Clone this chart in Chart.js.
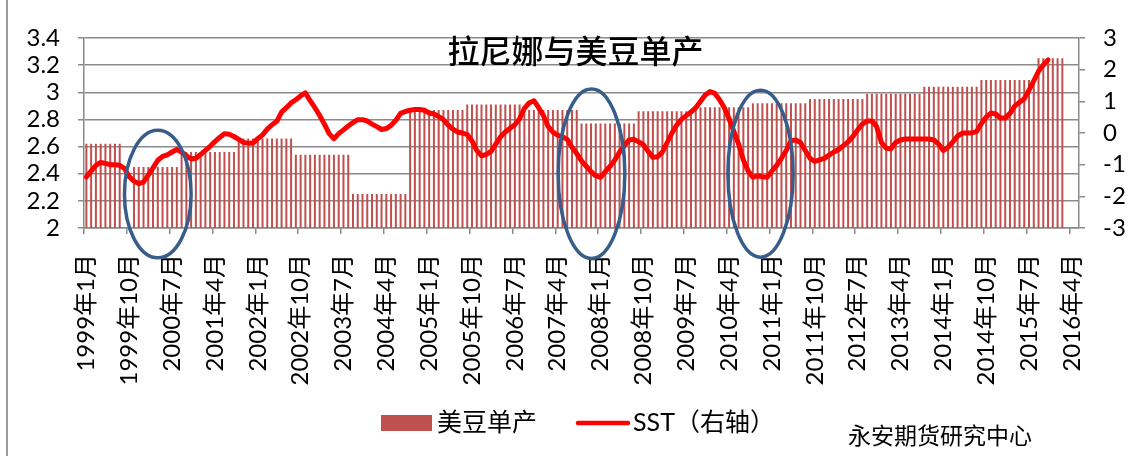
<!DOCTYPE html>
<html lang="zh-CN">
<head>
<meta charset="UTF-8">
<script src="https://cdn.jsdelivr.net/npm/chart.js"></script>
<style>
  html, body { margin: 0; padding: 0; background: #fff; }
  #wrap { width: 1137px; height: 456px; position: relative; }
</style>
</head>
<body>
<div id="wrap"><canvas id="laninaChart" width="1137" height="456"></canvas></div>
<script>
// 月度分类：1999年1月 起，共 209 个月
const months = [];
for (let i = 0; i < 209; i++) {
  months.push((1999 + Math.floor(i / 12)) + '年' + (i % 12 + 1) + '月');
}
const labelStep = 9;   // 横轴每 9 个月标一次

// 美豆单产（吨/公顷），按作物年度区间
const yieldFrom  = ['1999年1月', '1999年11月', '2000年9月', '2001年9月', '2002年9月', '2003年9月',
                    '2004年9月', '2005年9月', '2006年9月', '2007年9月', '2008年9月', '2009年9月',
                    '2010年9月', '2011年9月', '2012年9月', '2013年9月', '2014年9月', '2015年9月'];
const yieldTo    = ['1999年8月', '2000年8月', '2001年8月', '2002年8月', '2003年8月', '2004年8月',
                    '2005年8月', '2006年8月', '2007年8月', '2008年8月', '2009年8月', '2010年8月',
                    '2011年8月', '2012年8月', '2013年8月', '2014年8月', '2015年8月', '2016年2月'];
const yieldValue = [2.62, 2.45, 2.56, 2.66, 2.54, 2.25,
                    2.87, 2.91, 2.87, 2.77, 2.86, 2.89,
                    2.92, 2.95, 2.99, 3.04, 3.09, 3.25];

// SST 月度距平（右轴），1999年1月 - 2015年11月
const sst = [
  -1.39, -1.20, -1.02, -0.93, -0.96, -1.00, -1.00, -1.02, -1.12, -1.38, -1.52, -1.60,
  -1.55, -1.33, -1.10, -0.86, -0.74, -0.69, -0.60, -0.52, -0.60, -0.72, -0.82, -0.80,
  -0.68, -0.55, -0.42, -0.27, -0.14, -0.02, -0.04, -0.11, -0.20, -0.30, -0.32, -0.32,
  -0.18, -0.06, 0.12, 0.26, 0.37, 0.66, 0.80, 0.95, 1.05, 1.17, 1.27, 1.02,
  0.80, 0.55, 0.28, -0.02, -0.18, -0.02, 0.10, 0.22, 0.33, 0.42, 0.42, 0.38,
  0.28, 0.20, 0.11, 0.14, 0.24, 0.40, 0.62, 0.68, 0.72, 0.74, 0.74, 0.72,
  0.63, 0.60, 0.52, 0.42, 0.25, 0.12, 0.03, 0.00, -0.05, -0.25, -0.55, -0.72,
  -0.68, -0.58, -0.35, -0.12, 0.03, 0.15, 0.26, 0.45, 0.78, 0.95, 1.02, 0.80,
  0.55, 0.20, 0.03, -0.07, -0.12, -0.20, -0.45, -0.65, -0.88, -1.05, -1.22, -1.35,
  -1.40, -1.22, -1.05, -0.85, -0.60, -0.40, -0.22, -0.20, -0.28, -0.37, -0.58, -0.77,
  -0.75, -0.60, -0.30, 0.00, 0.25, 0.43, 0.55, 0.66, 0.80, 1.00, 1.20, 1.31,
  1.25, 1.05, 0.80, 0.45, 0.05, -0.35, -0.85, -1.20, -1.40, -1.35, -1.38, -1.40,
  -1.20, -1.02, -0.80, -0.55, -0.25, -0.22, -0.30, -0.55, -0.80, -0.90, -0.85, -0.80,
  -0.70, -0.60, -0.52, -0.40, -0.28, -0.11, 0.10, 0.28, 0.38, 0.38, 0.20, -0.30,
  -0.48, -0.50, -0.30, -0.22, -0.19, -0.19, -0.19, -0.19, -0.19, -0.19, -0.22, -0.35,
  -0.55, -0.45, -0.28, -0.10, 0.00, 0.00, 0.00, 0.05, 0.30, 0.50, 0.63, 0.60,
  0.47, 0.47, 0.62, 0.85, 0.97, 1.08, 1.35, 1.65, 1.95, 2.15, 2.31
];

// 标注的三个拉尼娜时段（中心月份、左轴值、半宽月数、半高）
const markCenter = [15.0, 106.1, 141.6];
const markValue  = [2.25, 2.40, 2.40];
const markHalfX  = [7.0, 7.0, 6.85];
const markHalfY  = [0.47, 0.625, 0.615];

// 按区间展开成月度柱数据
const yieldMonthly = months.map(() => null);
yieldValue.forEach((v, k) => {
  const a = months.indexOf(yieldFrom[k]);
  const b = months.indexOf(yieldTo[k]);
  for (let i = a; i <= b; i++) yieldMonthly[i] = v;
});
const sstMonthly = months.map((m, i) => (i < sst.length ? sst[i] : null));

const FONT = 'Lato, "Noto Sans CJK SC", sans-serif';
const GRID = '#8a8a8a';
const BAR = '#C0504D';
const LINE = '#FF0000';

// 标题、图例、署名和椭圆标注
const decorPlugin = {
  id: 'decor',
  afterDraw(chart) {
    const ctx = chart.ctx;
    const xs = chart.scales.x;
    const ys = chart.scales.y;
    const area = chart.chartArea;
    ctx.save();

    // 外框左边线
    ctx.strokeStyle = '#9a9a9a';
    ctx.lineWidth = 2;
    ctx.beginPath();
    ctx.moveTo(7, 0);
    ctx.lineTo(7, chart.height);
    ctx.stroke();

    // 标题
    ctx.fillStyle = '#000';
    ctx.font = '500 32px "Noto Sans CJK SC", sans-serif';
    ctx.textAlign = 'center';
    ctx.textBaseline = 'middle';
    ctx.fillText('拉尼娜与美豆单产', (area.left + area.right) / 2 - 6, 51);

    // 椭圆
    ctx.strokeStyle = '#385D8A';
    ctx.lineWidth = 3.5;
    markCenter.forEach((c, k) => {
      const cx = xs.getPixelForValue(c);
      const rx = xs.getPixelForValue(c + markHalfX[k]) - cx;
      const cy = ys.getPixelForValue(markValue[k]);
      const ry = cy - ys.getPixelForValue(markValue[k] + markHalfY[k]);
      ctx.beginPath();
      ctx.ellipse(cx, cy, rx, ry, 0, 0, Math.PI * 2);
      ctx.stroke();
    });

    // 图例
    const ly = 423;
    ctx.fillStyle = BAR;
    ctx.fillRect(381, ly - 8, 51, 16);
    ctx.fillStyle = '#000';
    ctx.textAlign = 'left';
    ctx.font = '25px ' + FONT;
    ctx.fillText('美豆单产', 437, ly);
    ctx.strokeStyle = LINE;
    ctx.lineWidth = 4.5;
    ctx.lineCap = 'round';
    ctx.beginPath();
    ctx.moveTo(578, ly);
    ctx.lineTo(628, ly);
    ctx.stroke();
    ctx.fillText('SST（右轴）', 633, ly);

    // 署名
    ctx.font = '23px ' + FONT;
    ctx.fillText('永安期货研究中心', 848, 437);
    ctx.restore();
  }
};

new Chart(document.getElementById('laninaChart'), {
  data: {
    labels: months,
    datasets: [
      {
        type: 'line',
        label: 'SST（右轴）',
        data: sstMonthly,
        yAxisID: 'y1',
        borderColor: LINE,
        borderWidth: 5,
        borderJoinStyle: 'round',
        borderCapStyle: 'round',
        pointRadius: 0,
        tension: 0,
        order: 1
      },
      {
        type: 'bar',
        label: '美豆单产',
        data: yieldMonthly,
        yAxisID: 'y',
        backgroundColor: BAR,
        barPercentage: 0.42,
        categoryPercentage: 1.0,
        order: 2
      }
    ]
  },
  options: {
    responsive: false,
    animation: false,
    layout: { padding: { top: 38, left: 0, right: 0, bottom: 0 } },
    plugins: {
      legend: { display: false },
      tooltip: { enabled: false },
      title: { display: false }
    },
    scales: {
      x: {
        type: 'category',
        offset: true,
        grid: {
          offset: true,
          drawOnChartArea: false,
          tickLength: 6,
          lineWidth: 1.5,
          color: c => (c.index % labelStep === 0 ? GRID : 'rgba(0,0,0,0)')
        },
        border: { color: GRID, width: 1.5 },
        ticks: {
          autoSkip: false,
          maxRotation: 90,
          minRotation: 90,
          padding: 20,
          color: '#000',
          font: { size: 24, family: FONT },
          callback: (v, i) => (i % labelStep === 0 ? months[i] : '')
        },
        afterFit: s => { s.height = 228; }
      },
      y: {
        position: 'left',
        min: 2,
        max: 3.4,
        grid: { color: GRID, lineWidth: 1.5, tickLength: 6 },
        border: { color: GRID, width: 1.5 },
        ticks: {
          autoSkip: false,
          stepSize: 0.2,
          padding: 18,
          color: '#000',
          font: { size: 24, family: FONT },
          callback: v => String(Number(v.toFixed(1)))
        },
        afterFit: s => { s.width = 84; }
      },
      y1: {
        position: 'right',
        min: -3,
        max: 3,
        grid: { drawOnChartArea: false, color: GRID, lineWidth: 1.5, tickLength: 6 },
        border: { color: GRID, width: 1.5 },
        ticks: {
          autoSkip: false,
          stepSize: 1,
          padding: 18,
          color: '#000',
          font: { size: 24, family: FONT }
        },
        afterFit: s => { s.width = 58; }
      }
    }
  },
  plugins: [decorPlugin]
});
</script>
</body>
</html>
